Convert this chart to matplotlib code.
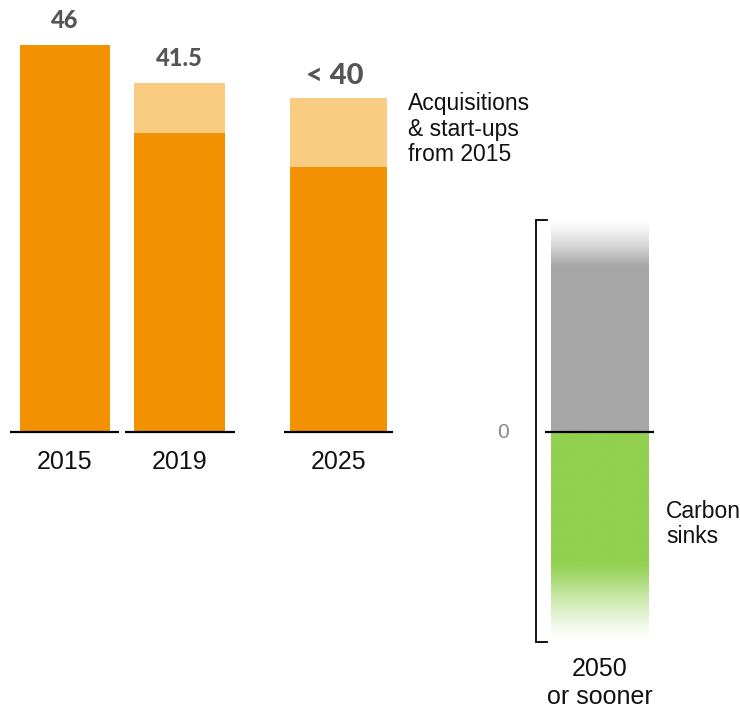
import numpy as np
import matplotlib
matplotlib.use("Agg")
import matplotlib.pyplot as plt

# ---- data ----
years = ["2015", "2019", "2025"]
base_values = [46.0, 35.5, 31.5]          # existing portfolio
acq_values = [0.0, 6.0, 8.2]              # acquisitions & start-ups from 2015
value_labels = ["46", "41.5", "< 40"]
net_year = "2050\nor sooner"
emissions_2050 = 25.2
sinks_2050 = -24.7

# ---- layout / style ----
PX = 8.413                       # pixels per unit
W, H = 740, 711
base_px = 432
centers = [65, 179.5, 338.5]
widths = [90, 91, 97]
line_ext = [(10, 119), (125, 235), (284, 393)]
c2050, w2050 = 600, 98
line2050 = (545, 654)
ORANGE = "#f39200"
LIGHT = "#f9cc82"
GREY = np.array([166, 166, 166]) / 255
GREEN = np.array([146, 208, 80]) / 255

def py(p):
    return (base_px - p) / PX

fig = plt.figure(figsize=(W / 100, H / 100), dpi=100)
ax = fig.add_axes([0, 0, 1, 1])
ax.set_xlim(0, W)
ax.set_ylim(py(H), py(0))
ax.axis("off")

for i, y in enumerate(years):
    ax.bar(centers[i], base_values[i], width=widths[i], color=ORANGE, align="center", zorder=2)
    if acq_values[i] > 0:
        ax.bar(centers[i], acq_values[i], bottom=base_values[i], width=widths[i],
               color=LIGHT, align="center", zorder=2)
    ax.hlines(0, *line_ext[i], color="black", lw=1.6, zorder=3)
    ax.text(centers[i], -3.6, y, ha="center", va="center", fontsize=18,
            family="Liberation Sans", color="#111111")

lab_y = [py(20), py(58), py(76)]
lab_fs = [17, 17, 21]
for i, l in enumerate(value_labels):
    ax.text(centers[i] - (4 if i == 2 else 0), lab_y[i], l, ha="center", va="center",
            fontsize=lab_fs[i], fontweight="black", family="Lato", color="#555555")

# 2050 gradient bar
n = 400
yy = np.linspace(emissions_2050, 0, n)
fade_top = 5.6
t = np.clip((emissions_2050 - yy) / fade_top, 0, 1)
alpha = t ** 1.3
col = np.ones((n, 1, 3)) * (1 - alpha[:, None, None]) + GREY[None, None, :] * alpha[:, None, None]
ax.imshow(col, extent=(c2050 - w2050 / 2, c2050 + w2050 / 2, 0, emissions_2050),
          aspect="auto", zorder=2, interpolation="bilinear")

yy2 = np.linspace(0, sinks_2050, n)
fade_bot = 9.0
t2 = np.clip((yy2 - sinks_2050) / fade_bot, 0, 1)
alpha2 = t2 ** 1.2
col2 = np.ones((n, 1, 3)) * (1 - alpha2[:, None, None]) + GREEN[None, None, :] * alpha2[:, None, None]
ax.imshow(col2, extent=(c2050 - w2050 / 2, c2050 + w2050 / 2, sinks_2050, 0),
          aspect="auto", zorder=2, interpolation="bilinear")

ax.hlines(0, *line2050, color="black", lw=1.6, zorder=3)

# bracket
bx = 536
ax.plot([bx + 11, bx, bx, bx + 11], [py(220), py(220), py(642), py(642)],
        color="black", lw=1.3, zorder=3, solid_joinstyle="miter")

ax.text(503, py(433), "0", ha="center", va="center", fontsize=15, color="#888888",
        family="Liberation Sans")
ax.text(c2050, py(683), net_year, ha="center", va="center", fontsize=18,
        family="Liberation Sans", color="#111111", linespacing=1.22)
ax.text(408, py(92), "Acquisitions\n& start-ups\nfrom 2015", ha="left", va="top",
        fontsize=16.5, family="Liberation Sans", color="#111111", linespacing=1.14)
ax.text(666, py(524), "Carbon\nsinks", ha="left", va="center", fontsize=16.5,
        family="Liberation Sans", color="#111111", linespacing=1.07)

fig.savefig("out.png", dpi=100)
